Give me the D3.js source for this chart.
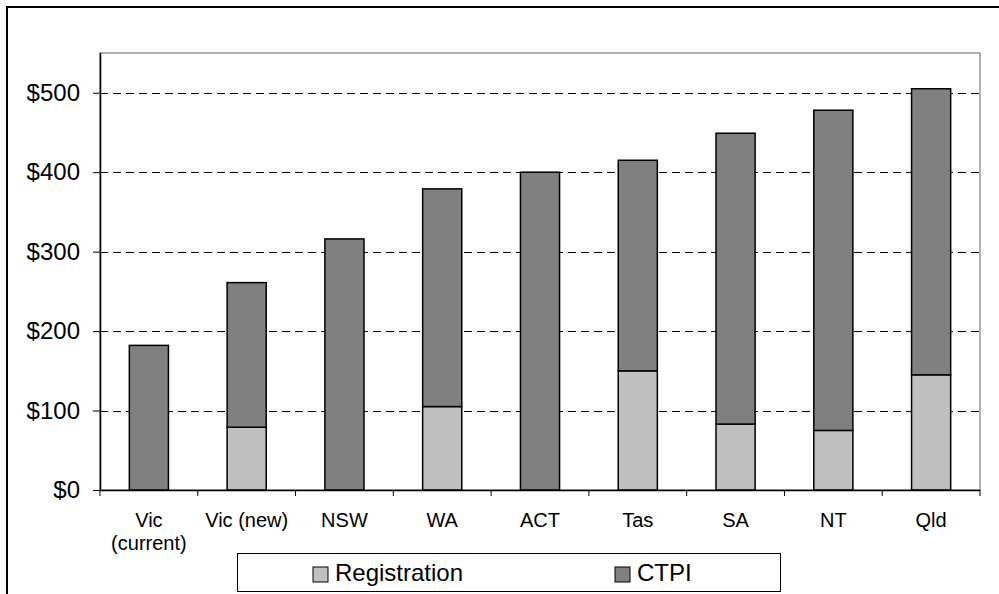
<!DOCTYPE html>
<html>
<head>
<meta charset="utf-8">
<script src="https://cdn.jsdelivr.net/npm/d3@7"></script>
<style>
  html, body { margin: 0; padding: 0; background: #fff; }
  svg { display: block; font-family: Arial, "Liberation Sans", sans-serif; }
</style>
</head>
<body>
<svg id="chart" width="999" height="594"></svg>
<script>
// Annual cost per vehicle by jurisdiction, split into registration and CTPI
const categories = [["Vic", "(current)"], ["Vic (new)"], ["NSW"], ["WA"], ["ACT"], ["Tas"], ["SA"], ["NT"], ["Qld"]];
const registration = [0, 79, 0, 105, 0, 150, 83, 75, 145];
const ctpi = [182, 182, 316, 274, 400, 265, 366, 403, 360];
const seriesNames = ["Registration", "CTPI"];
const seriesColors = ["#c0c0c0", "#808080"];
const yTicks = [0, 100, 200, 300, 400, 500];

const svg = d3.select("#chart");
const plot = { left: 100, right: 980, top: 53, bottom: 490 };

const keys = categories.map(c => c.join(" "));
const rows = keys.map((k, i) => ({ key: k, Registration: registration[i], CTPI: ctpi[i] }));
const stacked = d3.stack().keys(seriesNames)(rows);

const x = d3.scaleBand().domain(keys).range([plot.left, plot.right]).paddingInner(0.6).paddingOuter(0.3);
const xBand = d3.scaleBand().domain(keys).range([plot.left, plot.right]);
const y = d3.scaleLinear().domain([0, 550]).range([plot.bottom, plot.top]);

// Outer chart border (top and left edges visible)
svg.append("rect")
  .attr("x", 7).attr("y", 7).attr("width", 1200).attr("height", 800)
  .attr("fill", "none").attr("stroke", "#000").attr("stroke-width", 2);

// Plot area frame
svg.append("rect")
  .attr("x", plot.left).attr("y", plot.top)
  .attr("width", plot.right - plot.left).attr("height", plot.bottom - plot.top)
  .attr("fill", "#fff").attr("stroke", "#808080").attr("stroke-width", 1.2);

// Dashed gridlines
svg.append("g").selectAll("line")
  .data(yTicks.filter(t => t > 0))
  .join("line")
  .attr("x1", plot.left).attr("x2", plot.right)
  .attr("y1", d => Math.round(y(d)) + 0.5).attr("y2", d => Math.round(y(d)) + 0.5)
  .attr("stroke", "#000").attr("stroke-width", 1).attr("stroke-dasharray", "8,5");

// Stacked bars
svg.append("g").selectAll("g")
  .data(stacked)
  .join("g")
  .attr("fill", (d, i) => seriesColors[i])
  .selectAll("rect")
  .data(d => d.filter(s => s[1] - s[0] > 0))
  .join("rect")
  .attr("x", d => x(d.data.key))
  .attr("width", x.bandwidth())
  .attr("y", d => y(d[1]))
  .attr("height", d => y(d[0]) - y(d[1]))
  .attr("stroke", "#000").attr("stroke-width", 1.5);

// Y axis
const yAxis = svg.append("g")
  .attr("transform", `translate(${plot.left},0)`)
  .call(d3.axisLeft(y).tickValues(yTicks).tickFormat(d => "$" + d).tickSize(7).tickPadding(13));
yAxis.select(".domain").attr("stroke", "#000").attr("stroke-width", 1.5).attr("d", `M0.5,${plot.top}V${plot.bottom}`);
yAxis.selectAll(".tick line").attr("stroke", "#000");
yAxis.selectAll(".tick text").attr("font-size", 24).attr("fill", "#000")
  .attr("font-family", "Arial, 'Liberation Sans', sans-serif");

// X axis with ticks at category boundaries
const xAxis = svg.append("g").attr("transform", `translate(0,${plot.bottom})`);
xAxis.append("line")
  .attr("x1", plot.left).attr("x2", plot.right)
  .attr("y1", 0.5).attr("y2", 0.5)
  .attr("stroke", "#000").attr("stroke-width", 1.5);
const boundaries = keys.map(k => xBand(k)).concat([plot.right]);
xAxis.selectAll("line.tick")
  .data(boundaries)
  .join("line").attr("class", "tick")
  .attr("x1", d => d).attr("x2", d => d)
  .attr("y1", 0).attr("y2", 6)
  .attr("stroke", "#000").attr("stroke-width", 1);

const labels = svg.append("g").attr("font-size", 20).attr("fill", "#000").attr("text-anchor", "middle");
categories.forEach((lines, i) => {
  const cx = xBand(keys[i]) + xBand.bandwidth() / 2;
  const t = labels.append("text").attr("x", cx).attr("y", 527);
  lines.forEach((ln, j) => {
    t.append("tspan").attr("x", cx).attr("dy", j === 0 ? 0 : 23).text(ln);
  });
});

// Legend
const legend = svg.append("g");
legend.append("rect")
  .attr("x", 237.5).attr("y", 553.5).attr("width", 543).attr("height", 38)
  .attr("fill", "#fff").attr("stroke", "#000").attr("stroke-width", 1);
const legendX = [313, 615];
seriesNames.forEach((name, i) => {
  legend.append("rect")
    .attr("x", legendX[i]).attr("y", 567).attr("width", 15).attr("height", 15)
    .attr("fill", seriesColors[i]).attr("stroke", "#000").attr("stroke-width", 1);
  legend.append("text")
    .attr("x", legendX[i] + 22).attr("y", 581)
    .attr("font-size", 24).attr("fill", "#000")
    .text(name);
});
</script>
</body>
</html>
